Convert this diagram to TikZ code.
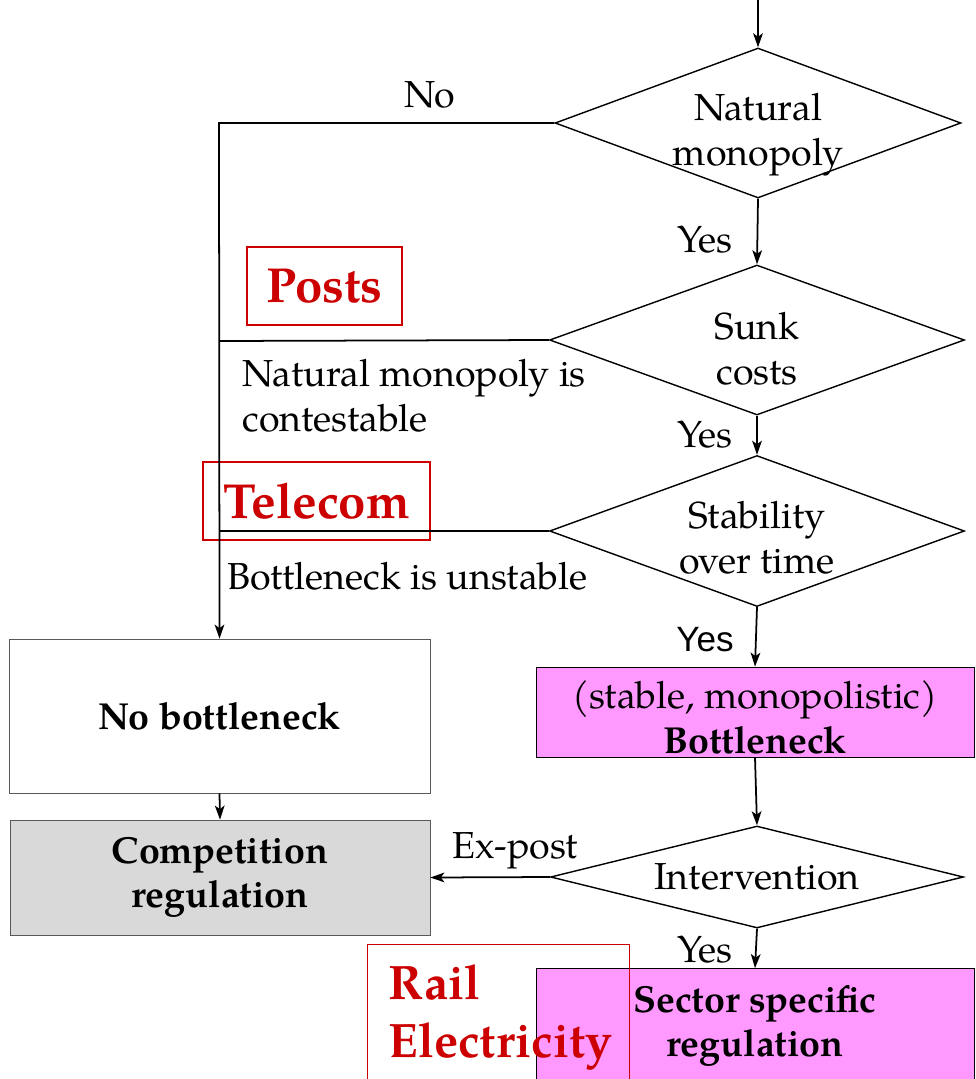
\documentclass[tikz,border=0pt]{standalone}
\usepackage{fontspec}
\setmainfont{TeX Gyre Pagella}
\newfontfamily\yesfont{Liberation Sans}
\usetikzlibrary{shapes.geometric,arrows.meta}
\definecolor{postred}{HTML}{CC0000}
\definecolor{bnpink}{HTML}{FF99FF}
\definecolor{compgray}{HTML}{D9D9D9}

\begin{document}
\begin{tikzpicture}[x=0.02cm,y=-0.02cm,
  decision/.style={draw, diamond, inner sep=0pt, line width=0.8pt, align=center, font=\fontsize{21.4}{25.5}\selectfont},
  outcome/.style={draw, rectangle, inner sep=0pt, align=center, font=\fontsize{21.4}{25.5}\selectfont\bfseries},
  sector/.style={draw=postred, rectangle, line width=0.8pt, text=postred, font=\fontsize{28}{33}\selectfont\bfseries},
  answer/.style={inner sep=0pt, font=\fontsize{21.4}{25.5}\selectfont},
  flow/.style={line width=1pt, -{Stealth[length=8pt,width=5.5pt,inset=2pt]}}]
  \clip (0,0) rectangle (975,1079);
  % Decisions
  \node[decision, minimum width=8.12cm, minimum height=3cm,
    label={[answer, align=center, yshift=-0.24cm]center:Natural\\monopoly}] (natmon) at (758,123) {};
  \node[decision, minimum width=8.3cm, minimum height=3cm,
    label={[answer, align=center, yshift=-0.18cm]center:Sunk\\costs}] (sunk) at (757,340) {};
  \node[decision, minimum width=8.3cm, minimum height=3.02cm,
    label={[answer, align=center, yshift=-0.14cm]center:Stability\\over time}] (stab) at (757,531) {};
  \node[decision, aspect=4.05, minimum width=8.26cm, minimum height=2.04cm] (interv) at (757,877) {Intervention};
  % Outcomes
  \node[outcome, draw=black!65, minimum width=8.42cm, minimum height=3.08cm] (nobn) at (219.5,716) {No bottleneck};
  \node[outcome, draw=black!65, fill=compgray, minimum width=8.4cm, minimum height=2.3cm] (comp) at (220,877.5) {Competition\\regulation};
  \node[outcome, fill=bnpink, minimum width=8.76cm, minimum height=1.8cm, font=\fontsize{21.4}{25.5}\selectfont] (bneck) at (755,712) {\rule{0pt}{22pt}(stable, monopolistic)\\\textbf{Bottleneck}};
  \node[outcome, fill=bnpink, minimum width=8.76cm, minimum height=2.3cm] (sectreg) at (755,1026) {Sector specific\\regulation};
  % Sectors
  \node[sector, minimum width=3.1cm, minimum height=1.56cm] (posts) at (324.5,286) {Posts};
  \node[sector, minimum width=4.54cm, minimum height=1.56cm] (telecom) at (316.5,501) {Telecom};
  \node[sector, anchor=north west, align=left, inner xsep=0.42cm, text width=4.4cm, minimum height=2.9cm, font=\fontsize{27.5}{33}\selectfont\bfseries] (rail) at (367,944) {Rail\\Electricity};
  \coordinate (entry) at (758,0);
  \coordinate (j1) at (219,123);
  \coordinate (j2) at (219,341);
  \coordinate (j3) at (219,531);
  % Draw the flow
  \draw[flow] (entry) -- (natmon.north);
  \draw[flow] (natmon.west) -- (j1) -- (nobn.north);
  \draw[line width=1pt] (sunk.west) -- (j2);
  \draw[line width=1pt] (stab.west) -- (j3);
  \draw[flow] (natmon.south) -- (sunk.north);
  \draw[flow] (sunk.south) -- (stab.north);
  \draw[flow] (stab.south) -- (bneck.north);
  \draw[flow] (bneck.south) -- (interv.north);
  \draw[flow] (interv.south) -- (sectreg.north);
  \draw[flow] (interv.west) -- (comp.east);
  \draw[flow] (nobn.south) -- (comp.north);
  % Labels
  \node[answer] (no1) at (430,95) {No};
  \node[answer] (yes1) at (705,240) {Yes};
  \node[answer] (yes2) at (705,435) {Yes};
  \node[answer, font=\yesfont\fontsize{20}{24}\selectfont] (yes3) at (705,640) {Yes};
  \node[answer] (yes4) at (705,950) {Yes};
  \node[answer] (expost) at (515,851) {Ex-post};
  \node[answer, anchor=west, align=left] (contest) at (242,396) {Natural monopoly is\\contestable};
  \node[answer, anchor=west] (unstable) at (227,576) {Bottleneck is unstable};
\end{tikzpicture}
\end{document}
